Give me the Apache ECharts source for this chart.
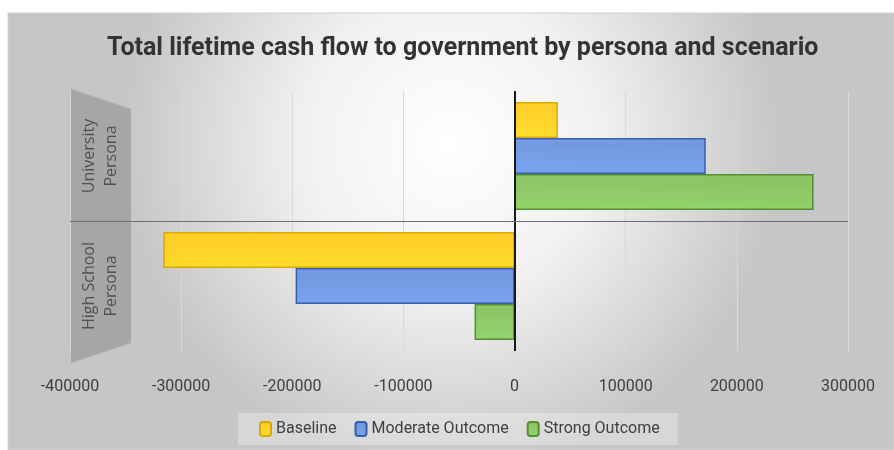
<!DOCTYPE html>
<html><head><meta charset="utf-8">
<script src="https://cdn.jsdelivr.net/npm/echarts@6/dist/echarts.min.js"></script>
<style>html,body{margin:0;padding:0;background:#fff}#c{width:894px;height:450px}</style>
</head><body><div id="c"></div>
<script>
const categories = ['High School Persona', 'University Persona'];
const categoryLabels = {'University Persona': 'University\nPersona', 'High School Persona': 'High School\nPersona'};
const seriesNames = ['Baseline', 'Moderate Outcome', 'Strong Outcome'];
const baseline = [-316000, 39000];
const moderate = [-197000, 172000];
const strong = [-36000, 269000];
const xTicks = { min: -400000, max: 300000, interval: 100000 };

const fills = ['#FFCC1F', '#6C95DF', '#86C35E'];
const borders = ['#D9A400', '#2F58A8', '#4E8A2C'];
const values = [baseline, moderate, strong];
const narrow = "Roboto, 'Liberation Sans', sans-serif";

const chart = echarts.init(document.getElementById('c'), null, {renderer: 'canvas'});
const series = seriesNames.map((n, i) => ({
  name: n, type: 'bar', data: values[i], barGap: '0%', barCategoryGap: '17%',
  itemStyle: {
    color: { type: 'linear', x: 0, y: 0, x2: 0, y2: 1, colorStops: [
      {offset: 0, color: echarts.color.lift(fills[i], -0.05)},
      {offset: 0.15, color: fills[i]},
      {offset: 1, color: echarts.color.lift(fills[i], -0.08)}]},
    borderColor: borders[i], borderWidth: 1.5, opacity: 0.95
  },
  emphasis: {disabled: true},
  markLine: i === 0 ? { silent: true, symbol: 'none', label: {show: false},
    lineStyle: {color: '#1a1a1a', width: 2, type: 'solid'}, data: [{xAxis: 0}] } : undefined
}));
// divider between the two persona bands
series.push({
  name: '_divider', type: 'line', yAxisIndex: 1, data: [], silent: true,
  markLine: { silent: true, symbol: 'none', label: {show: false},
    lineStyle: {color: '#6e6e6e', width: 1, type: 'solid'}, data: [{yAxis: 1}] }
});

chart.setOption({
  animation: false,
  backgroundColor: '#ffffff',
  graphic: [
    { type: 'rect', z: -10, shape: {x: 8, y: 13, width: 886, height: 437},
      style: { fill: { type: 'radial', x: 0.5, y: 0.3, r: 0.75, colorStops: [
        {offset: 0, color: '#ffffff'}, {offset: 0.45, color: '#f1f1f1'}, {offset: 1, color: '#c6c6c6'}]},
        stroke: '#d0d0d0', lineWidth: 1 } },
    { type: 'polygon', z: -5, shape: {points: [[71, 89], [131, 109], [131, 343], [71, 363]]},
      style: { fill: '#a6a6a6' } }
  ],
  title: {
    text: 'Total lifetime cash flow to government by persona and scenario',
    left: 102, top: 31,
    textStyle: {fontFamily: narrow, fontWeight: 'bold', fontSize: 25, color: '#333333'}
  },
  legend: {
    data: seriesNames, bottom: 5, left: 238,
    backgroundColor: 'rgba(255,255,255,0.3)', padding: [8, 18, 8, 21],
    itemWidth: 11, itemHeight: 14, itemGap: 18,
    textStyle: {fontFamily: narrow, fontSize: 16, color: '#404040'}
  },
  grid: {left: 70, right: 46, top: 91, bottom: 99, containLabel: false},
  xAxis: {
    type: 'value', min: xTicks.min, max: xTicks.max, interval: xTicks.interval,
    axisLine: {show: false}, axisTick: {show: false},
    axisLabel: {margin: 28, fontFamily: narrow, fontSize: 16, color: '#404040', formatter: v => String(v)},
    splitLine: {show: true, lineStyle: {color: '#d9d9d9', width: 1}}
  },
  yAxis: [{
    type: 'category', data: categories,
    axisLine: {show: false}, axisTick: {show: false},
    axisLabel: {rotate: 90, margin: -30, align: 'center', verticalAlign: 'middle', lineHeight: 22,
      fontFamily: "'Open Sans', sans-serif", fontSize: 16, color: '#505050',
      formatter: v => categoryLabels[v]},
    splitLine: {show: false}
  }, {
    type: 'value', min: 0, max: 2, show: false, splitLine: {show: false}
  }],
  series: series
});
</script></body></html>
